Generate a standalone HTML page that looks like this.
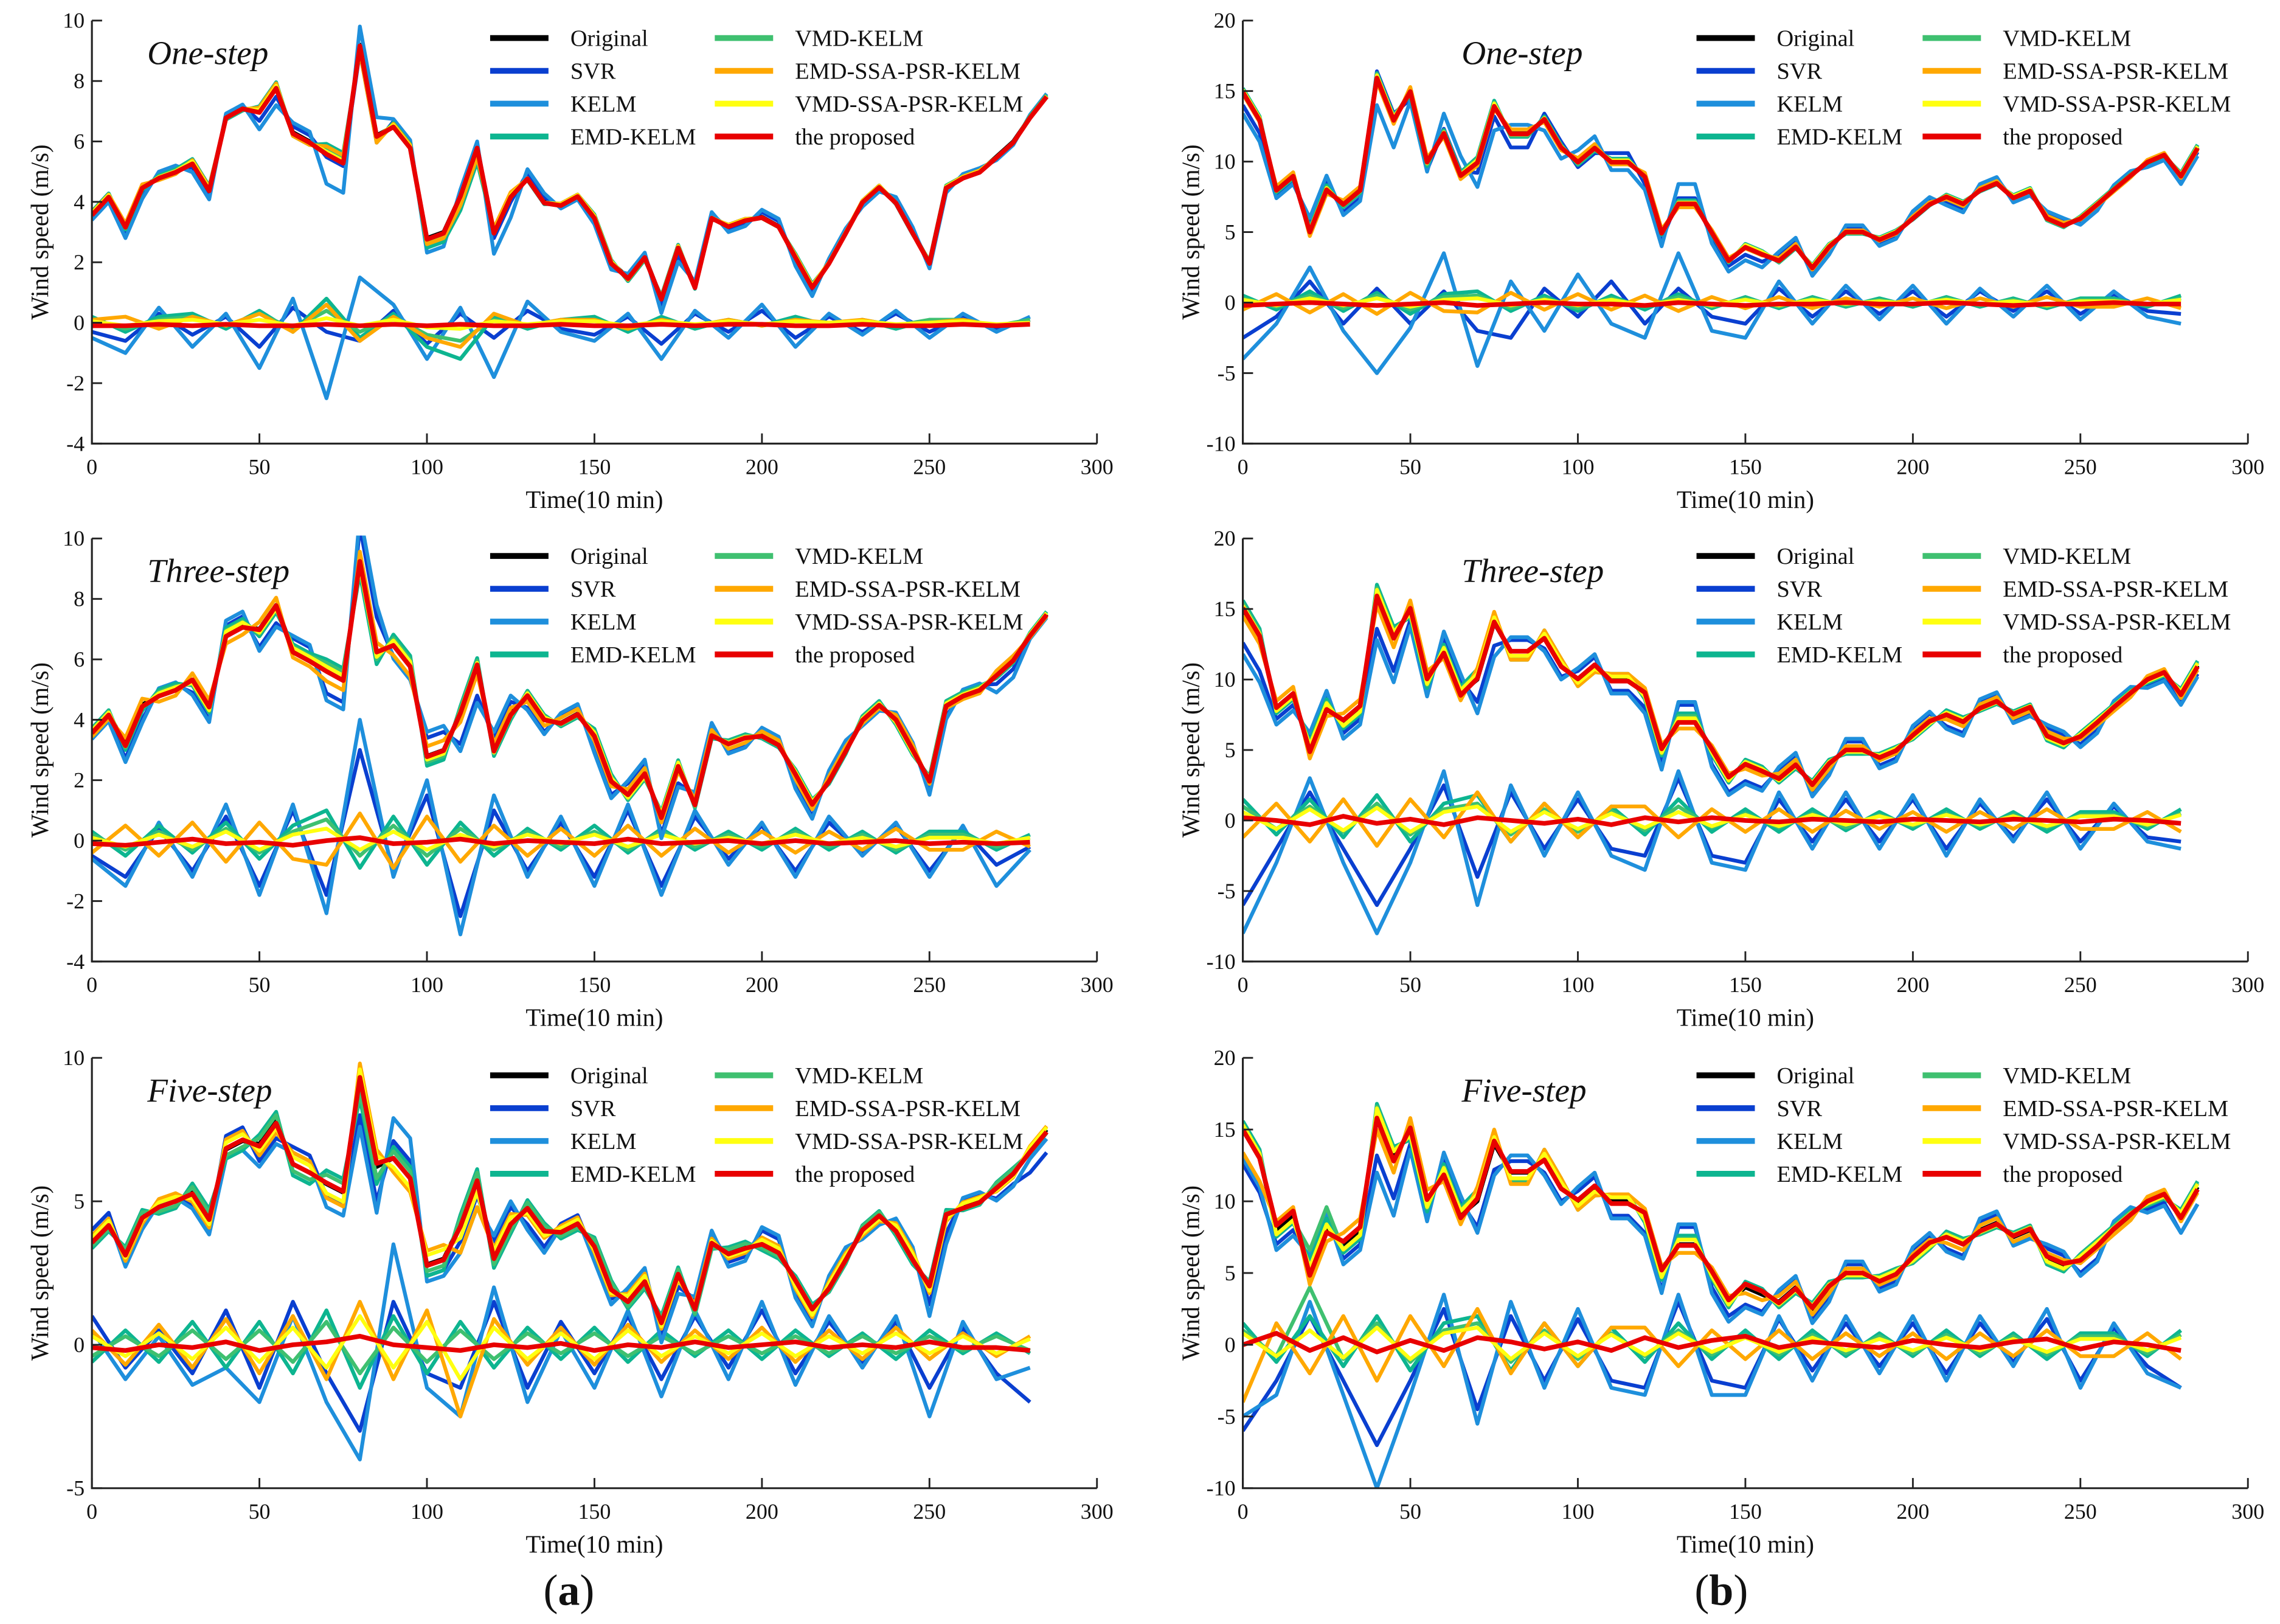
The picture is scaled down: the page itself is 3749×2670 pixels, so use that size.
<!DOCTYPE html>
<html><head><meta charset="utf-8">
<style>
html,body{margin:0;padding:0;background:#fff;}
svg{display:block;}
text{font-family:"Liberation Serif",serif;fill:#111;}
</style></head>
<body>
<svg id="fig" width="3749" height="2670" viewBox="0 0 1563 1113" xmlns="http://www.w3.org/2000/svg">
<text x="390" y="1100" font-size="30" text-anchor="middle">(<tspan font-weight="bold">a</tspan>)</text>
<text x="1180" y="1100" font-size="30" text-anchor="middle">(<tspan font-weight="bold">b</tspan>)</text>
</svg>
<script>
// time steps of original series (every 5 samples)
const timeOrig = [0,5,10,15,20,25,30,35,40,45,50,55,60,65,70,75,80,85,90,95,100,105,110,115,120,125,130,135,140,145,150,155,160,165,170,175,180,185,190,195,200,205,210,215,220,225,230,235,240,245,250,255,260,265,270,275,280,285];
const origA = [3.6,4.2,3.2,4.5,4.8,5.0,5.3,4.4,6.8,7.1,7.0,7.8,6.3,6.0,5.6,5.3,9.2,6.2,6.5,5.8,2.8,3.0,4.2,5.8,3.0,4.2,4.8,4.0,3.9,4.2,3.5,2.0,1.5,2.2,0.8,2.5,1.2,3.5,3.2,3.4,3.5,3.2,2.2,1.2,2.0,3.0,4.0,4.5,4.0,3.0,2.0,4.5,4.8,5.0,5.5,6.0,6.8,7.5];
const origB = [15,13,8,9,5,8,7,8,16,13,15,10,12,9,10,14,12,12,13,11,10,11,10,10,9,5,7,7,5,3,4,3.5,3,4,2.5,4,5,5,4.5,5,6,7,7.5,7,8,8.5,7.5,8,6,5.5,6,7,8,9,10,10.5,9,11];
// residuals every 10 samples
const timeRes = [0,10,20,30,40,50,60,70,80,90,100,110,120,130,140,150,160,170,180,190,200,210,220,230,240,250,260,270,280];
// panel a1 (one-step)
const a1Svr   = [-0.3,-0.6,0.3,-0.4,0.2,-0.8,0.5,-0.3,-0.6,0.4,-0.7,0.3,-0.5,0.4,-0.2,-0.4,0.2,-0.7,0.3,-0.3,0.4,-0.5,0.2,-0.3,0.3,-0.3,0.2,-0.2,0.1];
const a1Kelm  = [-0.5,-1.0,0.5,-0.8,0.3,-1.5,0.8,-2.5,1.5,0.6,-1.2,0.5,-1.8,0.7,-0.3,-0.6,0.3,-1.2,0.4,-0.5,0.6,-0.8,0.3,-0.4,0.4,-0.5,0.3,-0.3,0.2];
const a1Emd   = [0.2,-0.3,0.2,0.3,-0.2,0.4,-0.3,0.8,-0.5,0.3,-0.8,-1.2,0.2,-0.2,0.1,0.2,-0.3,0.2,-0.2,0.1,-0.1,0.2,-0.1,0.1,-0.2,0.1,0.1,-0.1,0.1];
const a1Vmd   = [0.1,-0.2,0.1,0.2,-0.1,0.3,-0.2,0.4,-0.3,0.2,-0.4,-0.6,0.1,-0.1,0.1,0.1,-0.2,0.1,-0.1,0.1,-0.1,0.1,-0.1,0.1,-0.1,0.1,0.1,-0.1,0.1];
const a1EmdSsa= [0.1,0.2,-0.2,0.2,-0.1,0.3,-0.3,0.6,-0.6,0.2,-0.5,-0.8,0.3,-0.1,0.1,0.1,-0.2,0.1,-0.1,0.1,-0.1,0.1,0,0.1,-0.1,0,0.1,-0.1,0];
const a1VmdSsa= [0.05,-0.1,0.05,0.1,-0.05,0.1,-0.1,0.15,-0.1,0.1,-0.15,-0.2,0.05,-0.05,0.05,0.05,-0.1,0.05,-0.05,0.05,-0.05,0.05,0,0.05,-0.05,0,0.05,-0.05,0];
const a1Prop  = [-0.1,-0.1,-0.05,-0.1,-0.05,-0.1,-0.1,-0.05,-0.1,-0.05,-0.1,-0.05,-0.1,-0.1,-0.05,-0.1,-0.1,-0.05,-0.1,-0.05,-0.05,-0.1,-0.1,-0.05,-0.1,-0.1,-0.05,-0.1,-0.05];
// panel a2 (three-step)
const a2Svr   = [-0.5,-1.2,0.4,-1.0,0.8,-1.5,1.0,-1.8,3.0,-1.0,1.5,-2.5,1.0,-1.0,0.6,-1.2,1.0,-1.5,0.8,-0.6,0.5,-1.0,0.6,-0.4,0.5,-1.0,0.4,-0.8,-0.2];
const a2Kelm  = [-0.6,-1.5,0.6,-1.2,1.2,-1.8,1.2,-2.4,4.0,-1.2,2.0,-3.1,1.5,-1.2,0.8,-1.5,1.2,-1.8,1.0,-0.8,0.6,-1.2,0.8,-0.5,0.6,-1.2,0.5,-1.5,-0.3];
const a2Emd   = [0.3,-0.5,0.5,-0.4,0.6,-0.6,0.5,1.0,-0.9,0.8,-0.8,0.6,-0.5,0.4,-0.3,0.5,-0.4,0.4,-0.3,0.3,-0.3,0.4,-0.3,0.3,-0.4,0.3,0.3,-0.3,0.2];
const a2Vmd   = [0.2,-0.3,0.3,-0.3,0.4,-0.4,0.3,0.7,-0.5,0.5,-0.5,0.4,-0.3,0.3,-0.2,0.3,-0.3,0.3,-0.2,0.2,-0.2,0.3,-0.2,0.2,-0.3,0.2,0.2,-0.2,0.1];
const a2EmdSsa= [-0.4,0.5,-0.5,0.6,-0.7,0.6,-0.6,-0.8,0.9,-0.9,0.8,-0.7,0.5,-0.5,0.4,-0.5,0.5,-0.5,0.4,-0.4,0.3,-0.4,0.3,-0.3,0.4,-0.3,-0.3,0.3,-0.2];
const a2VmdSsa= [0.1,-0.2,0.2,-0.2,0.3,-0.3,0.2,0.4,-0.3,0.3,-0.3,0.2,-0.2,0.2,-0.1,0.2,-0.2,0.2,-0.1,0.1,-0.1,0.2,-0.1,0.1,-0.2,0.1,0.1,-0.1,0.1];
const a2Prop  = [-0.1,-0.15,-0.05,0.05,-0.1,-0.05,-0.15,0.0,0.1,-0.1,-0.05,0.05,-0.1,0.0,-0.05,-0.1,0.05,-0.1,-0.05,0.0,-0.1,0.0,-0.1,-0.05,0.0,-0.1,-0.05,-0.1,-0.05];
// panel a3 (five-step)
const a3Svr   = [1.0,-0.8,0.5,-1.0,1.2,-1.5,1.5,-1.0,-3.0,1.5,-1.0,-1.5,1.5,-1.5,0.8,-1.0,1.0,-1.2,1.0,-0.8,1.2,-1.0,0.8,-0.6,0.8,-1.5,0.6,-1.0,-2.0];
const a3Kelm  = [0.5,-1.2,0.3,-1.4,-0.8,-2.0,1.0,-2.0,-4.0,3.5,-1.5,-2.5,2.0,-2.0,0.5,-1.5,1.2,-1.8,1.2,-1.2,1.5,-1.4,1.0,-0.8,1.0,-2.5,0.8,-1.2,-0.8];
const a3Emd   = [-0.6,0.5,-0.6,0.8,-0.8,0.8,-1.0,1.2,-1.5,1.0,-1.0,0.8,-0.8,0.6,-0.5,0.6,-0.6,0.5,-0.4,0.5,-0.5,0.5,-0.4,0.4,-0.5,0.5,-0.3,0.4,-0.3];
const a3Vmd   = [-0.4,0.3,-0.4,0.5,-0.5,0.5,-0.6,0.8,-1.0,0.6,-0.6,0.5,-0.5,0.4,-0.3,0.4,-0.4,0.3,-0.3,0.3,-0.3,0.3,-0.3,0.3,-0.3,0.3,-0.2,0.3,-0.2];
const a3EmdSsa= [0.5,-0.7,0.7,-0.8,0.9,-1.0,1.0,-1.2,1.5,-1.2,1.2,-2.5,0.9,-0.7,0.6,-0.7,0.7,-0.6,0.5,-0.5,0.6,-0.6,0.5,-0.5,0.6,-0.5,0.4,-0.4,0.3];
const a3VmdSsa= [0.3,-0.4,0.4,-0.5,0.6,-0.6,0.6,-0.8,1.0,-0.8,0.8,-1.2,0.6,-0.5,0.4,-0.5,0.5,-0.4,0.3,-0.3,0.4,-0.4,0.3,-0.3,0.4,-0.3,0.3,-0.3,0.2];
const a3Prop  = [-0.1,-0.2,0.0,-0.1,0.1,-0.2,0.0,0.1,0.3,0.0,-0.1,-0.2,0.0,-0.1,0.05,-0.2,0.0,-0.1,0.1,-0.1,0.0,0.1,-0.1,0.0,-0.1,0.1,-0.1,-0.1,-0.2];
// panel b1 (one-step)
const b1Svr   = [-2.5,-1.0,1.5,-1.5,1.0,-1.5,0.8,-2.0,-2.5,1.0,-1.0,1.5,-1.5,1.0,-1.0,-1.5,1.0,-1.0,0.8,-0.8,0.8,-1.0,0.8,-0.6,0.8,-0.8,0.6,-0.6,-0.8];
const b1Kelm  = [-4.0,-1.5,2.5,-2.0,-5.0,-1.8,3.5,-4.5,1.5,-2.0,2.0,-1.5,-2.5,3.5,-2.0,-2.5,1.5,-1.5,1.2,-1.2,1.2,-1.5,1.0,-1.0,1.2,-1.2,0.8,-1.0,-1.5];
const b1Emd   = [0.5,-0.5,0.8,-0.6,0.7,-0.8,0.6,0.8,-0.6,0.5,-0.6,0.5,-0.5,0.6,-0.4,0.4,-0.4,0.4,-0.3,0.3,-0.3,0.4,-0.3,0.3,-0.4,0.3,0.3,-0.3,0.5];
const b1Vmd   = [0.3,-0.3,0.5,-0.4,0.5,-0.5,0.4,0.5,-0.4,0.3,-0.4,0.3,-0.3,0.4,-0.3,0.3,-0.3,0.3,-0.2,0.2,-0.2,0.3,-0.2,0.2,-0.3,0.2,0.2,-0.2,0.3];
const b1EmdSsa= [-0.5,0.6,-0.7,0.6,-0.8,0.7,-0.6,-0.7,0.7,-0.5,0.6,-0.5,0.5,-0.6,0.4,-0.4,0.4,-0.4,0.3,-0.3,0.3,-0.4,0.3,-0.3,0.4,-0.3,-0.3,0.3,-0.4];
const b1VmdSsa= [0.2,-0.2,0.3,-0.2,0.3,-0.3,0.2,0.3,-0.2,0.2,-0.2,0.2,-0.2,0.2,-0.2,0.2,-0.2,0.2,-0.1,0.1,-0.1,0.2,-0.1,0.1,-0.2,0.1,0.1,-0.1,0.2];
const b1Prop  = [-0.2,-0.1,0.0,-0.1,-0.2,-0.1,0.0,-0.2,-0.1,0.0,-0.1,-0.1,-0.2,0.0,-0.1,-0.2,-0.1,-0.1,0.0,-0.1,-0.1,0.0,-0.1,-0.2,-0.1,-0.1,0.0,-0.1,-0.1];
// panel b2 (three-step)
const b2Svr   = [-6.0,-2.0,2.0,-2.0,-6.0,-2.0,2.5,-4.0,2.0,-2.0,1.5,-2.0,-2.5,3.0,-2.5,-3.0,1.5,-1.5,1.5,-1.5,1.5,-2.0,1.2,-1.2,1.5,-1.5,1.0,-1.2,-1.5];
const b2Kelm  = [-8.0,-3.0,3.0,-3.0,-8.0,-3.0,3.5,-6.0,2.5,-2.5,2.0,-2.5,-3.5,3.5,-3.0,-3.5,2.0,-2.0,2.0,-2.0,1.8,-2.5,1.5,-1.5,2.0,-2.0,1.2,-1.5,-2.0];
const b2Emd   = [1.5,-1.0,1.5,-1.2,1.8,-1.5,1.2,1.8,-1.5,1.2,-1.2,1.0,-1.0,1.5,-0.8,0.8,-0.8,0.8,-0.7,0.6,-0.6,0.8,-0.6,0.6,-0.8,0.6,0.6,-0.6,0.8];
const b2Vmd   = [1.0,-0.6,1.0,-0.8,1.2,-1.0,0.8,1.2,-1.0,0.8,-0.8,0.7,-0.7,1.0,-0.5,0.5,-0.5,0.5,-0.5,0.4,-0.4,0.5,-0.4,0.4,-0.5,0.4,0.4,-0.4,0.5];
const b2EmdSsa= [-1.2,1.2,-1.5,1.5,-1.8,1.5,-1.2,2.0,-1.5,1.2,-1.2,1.0,1.0,-1.2,0.8,-0.8,0.8,-0.8,0.7,-0.6,0.6,-0.8,0.6,-0.6,0.8,-0.6,-0.6,0.6,-0.8];
const b2VmdSsa= [0.6,-0.6,0.8,-0.7,0.9,-0.8,0.6,1.0,-0.8,0.6,-0.6,0.5,-0.5,0.6,-0.4,0.4,-0.4,0.4,-0.3,0.3,-0.3,0.4,-0.3,0.3,-0.4,0.3,0.3,-0.3,0.4];
const b2Prop  = [0.2,0.0,-0.3,0.3,-0.2,0.1,-0.3,0.2,0.0,-0.2,0.1,-0.3,0.2,-0.1,0.2,0.0,-0.1,0.1,0.0,-0.1,0.1,0.0,-0.1,0.1,0.0,-0.1,0.1,0.0,-0.2];
// panel b3 (five-step)
const b3Svr   = [-6.0,-2.5,2.0,-2.5,-7.0,-2.5,2.5,-4.5,2.0,-2.5,1.8,-2.5,-3.0,3.0,-2.5,-3.0,1.8,-1.8,1.5,-1.5,1.5,-2.0,1.5,-1.2,1.8,-2.5,1.2,-1.5,-3.0];
const b3Kelm  = [-5.0,-3.5,3.0,-3.5,-10.0,-3.5,3.5,-5.5,3.0,-3.0,2.5,-3.0,-3.5,3.5,-3.5,-3.5,2.0,-2.5,2.0,-2.0,2.0,-2.5,2.0,-1.5,2.5,-3.0,1.5,-2.0,-3.0];
const b3Emd   = [1.5,-1.2,2.0,-1.5,2.0,-1.8,1.5,2.0,-1.8,1.5,-1.5,1.2,-1.2,1.5,-1.0,1.0,-1.0,1.0,-0.8,0.8,-0.8,1.0,-0.8,0.8,-1.0,0.8,0.8,-0.8,1.0];
const b3Vmd   = [1.0,-0.8,4.0,-1.0,1.5,-1.2,1.0,1.5,-1.2,1.0,-1.0,0.8,-0.8,1.0,-0.7,0.7,-0.7,0.7,-0.6,0.6,-0.6,0.7,-0.6,0.6,-0.7,0.6,0.6,-0.6,0.7];
const b3EmdSsa= [-4.0,1.5,-2.0,2.0,-2.5,2.0,-1.5,2.5,-2.0,1.5,-1.5,1.2,1.2,-1.5,1.0,-1.0,1.0,-1.0,0.8,-0.8,0.8,-1.0,0.8,-0.8,1.0,-0.8,-0.8,0.8,-1.0];
const b3VmdSsa= [0.8,-0.8,1.0,-0.9,1.2,-1.0,0.8,1.2,-1.0,0.8,-0.8,0.7,-0.7,0.8,-0.5,0.5,-0.5,0.5,-0.4,0.4,-0.4,0.5,-0.4,0.4,-0.5,0.4,0.4,-0.4,0.5];
const b3Prop  = [0.0,0.8,-0.4,0.5,-0.5,0.3,-0.4,0.5,0.2,-0.3,0.2,-0.4,0.5,-0.2,0.3,0.6,-0.2,0.2,0.0,-0.2,0.3,0.0,-0.2,0.2,0.4,-0.3,0.2,0.0,-0.4];

const legendNames = ["Original","SVR","KELM","EMD-KELM","VMD-KELM","EMD-SSA-PSR-KELM","VMD-SSA-PSR-KELM","the proposed"];
const xTicks = [0,50,100,150,200,250,300];
const yTicksA12 = [-4,-2,0,2,4,6,8,10];
const yTicksA3 = [-5,0,5,10];
const yTicksB = [-10,-5,0,5,10,15,20];
const colors = ["#000000","#0a3fd0","#1e8fdc","#0db590","#3fc070","#ffa800","#ffff10","#e80000"];
const NS = "http://www.w3.org/2000/svg";
const svg = document.getElementById('fig');

function mk(tag, attrs, parent){
  const e = document.createElementNS(NS, tag);
  for (const k in attrs) e.setAttribute(k, attrs[k]);
  (parent||svg).appendChild(e);
  return e;
}

const panels = [
 {id:'a1', x0:63, x1:752, yT:14, yB:304, ymin:-4, ymax:10, ticks:yTicksA12, title:'One-step', orig:origA, res:[a1Svr,a1Kelm,a1Emd,a1Vmd,a1EmdSsa,a1VmdSsa,a1Prop], leg:[336,490]},
 {id:'a2', x0:63, x1:752, yT:369, yB:659, ymin:-4, ymax:10, ticks:yTicksA12, title:'Three-step', orig:origA, res:[a2Svr,a2Kelm,a2Emd,a2Vmd,a2EmdSsa,a2VmdSsa,a2Prop], leg:[336,490]},
 {id:'a3', x0:63, x1:752, yT:725, yB:1020, ymin:-5, ymax:10, ticks:yTicksA3, title:'Five-step', orig:origA, res:[a3Svr,a3Kelm,a3Emd,a3Vmd,a3EmdSsa,a3VmdSsa,a3Prop], leg:[336,490]},
 {id:'b1', x0:852, x1:1541, yT:14, yB:304, ymin:-10, ymax:20, ticks:yTicksB, title:'One-step', orig:origB, res:[b1Svr,b1Kelm,b1Emd,b1Vmd,b1EmdSsa,b1VmdSsa,b1Prop], leg:[1163,1318]},
 {id:'b2', x0:852, x1:1541, yT:369, yB:659, ymin:-10, ymax:20, ticks:yTicksB, title:'Three-step', orig:origB, res:[b2Svr,b2Kelm,b2Emd,b2Vmd,b2EmdSsa,b2VmdSsa,b2Prop], leg:[1163,1318]},
 {id:'b3', x0:852, x1:1541, yT:725, yB:1020, ymin:-10, ymax:20, ticks:yTicksB, title:'Five-step', orig:origB, res:[b3Svr,b3Kelm,b3Emd,b3Vmd,b3EmdSsa,b3VmdSsa,b3Prop], leg:[1163,1318]}
];

panels.forEach(p=>{
  const g = mk('g',{});
  
  
  const xs = t => p.x0 + (t/300)*(p.x1-p.x0);
  const ys = v => p.yB - (v-p.ymin)/(p.ymax-p.ymin)*(p.yB-p.yT);
  const cp = mk('clipPath',{id:'clip-'+p.id}, g);
  mk('rect',{x:p.x0,y:p.yT-2,width:p.x1-p.x0,height:p.yB-p.yT+2}, cp);
  const lines = mk('g',{'clip-path':'url(#clip-'+p.id+')'}, g);
  const draw = (ts, vs, col, w, name) => {
    const d = vs.map((v,i)=>(i?'L':'M')+xs(ts[i]).toFixed(1)+','+ys(v).toFixed(1)).join('');
    const pa = mk('path',{d:d,fill:'none',stroke:col,'stroke-width':w,'stroke-linejoin':'round'}, lines);
    
    
  };
  const keys = ['svr','kelm','emd-kelm','vmd-kelm','emd-ssa-psr-kelm','vmd-ssa-psr-kelm','proposed'];
  p.res.forEach((r,k)=>{
    draw(timeRes, r, colors[k+1], k===6?3.2:2.6, keys[k]+'-error-line');
  });
  draw(timeOrig, p.orig, colors[0], 2.8, 'original-line');
  p.res.forEach((r,k)=>{
    const pred = p.orig.map((v,i)=> v + r[Math.floor(i/2)]*0.4);
    draw(timeOrig, pred, colors[k+1], k===6?3.2:2.6, keys[k]+'-prediction-line');
  });
  const ax = mk('path',{d:`M${p.x0},${p.yT}L${p.x0},${p.yB}L${p.x1},${p.yB}`,fill:'none',stroke:'#222','stroke-width':1.3}, g);
  
  
  xTicks.forEach(t=>{
    mk('line',{x1:xs(t),x2:xs(t),y1:p.yB,y2:p.yB-7,stroke:'#222','stroke-width':1.2}, g);
    const tx = mk('text',{x:xs(t),y:p.yB+21,'font-size':15,'text-anchor':'middle'}, g);
    tx.textContent = t;
    
    
  });
  p.ticks.forEach(v=>{
    mk('line',{x1:p.x0,x2:p.x0+7,y1:ys(v),y2:ys(v),stroke:'#222','stroke-width':1.2}, g);
    const tx = mk('text',{x:p.x0-5,y:ys(v)+5,'font-size':15,'text-anchor':'end'}, g);
    tx.textContent = v;
    
    
  });
  const xl = mk('text',{x:(p.x0+p.x1)/2,y:p.yB+44,'font-size':17,'text-anchor':'middle'}, g);
  xl.textContent = 'Time(10 min)';
  
  
  const yc = (p.yT+p.yB)/2;
  const yl = mk('text',{x:p.x0-30,y:yc,'font-size':17,'text-anchor':'middle',transform:`rotate(-90 ${p.x0-30} ${yc})`}, g);
  yl.textContent = 'Wind speed (m/s)';
  
  
  const tt = mk('text',{x:(p.id[0]==='a'?p.x0+38:p.x0+150),y:p.yT+30,'font-size':23,'font-style':'italic'}, g);
  tt.textContent = p.title;
  
  
  legendNames.forEach((n,i)=>{
    const col = Math.floor(i/4), row = i%4;
    const lx = p.leg[col], ly = p.yT + 12 + row*22.5;
    const le = mk('g',{}, g);
    
    
    mk('line',{x1:lx,x2:lx+40,y1:ly,y2:ly,stroke:colors[i],'stroke-width':4}, le);
    const t = mk('text',{x:lx+55,y:ly+5.5,'font-size':16}, le);
    t.textContent = n;
  });
});
</script>
</body></html>
